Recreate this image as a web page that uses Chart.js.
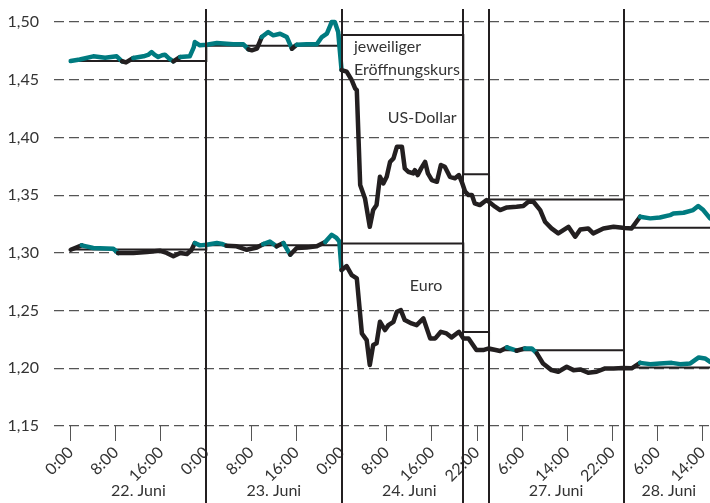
<!DOCTYPE html>
<html>
<head>
<meta charset="utf-8">
<script src="https://cdn.jsdelivr.net/npm/chart.js@4.4.0/dist/chart.umd.min.js"></script>
<style>
  html, body { margin: 0; padding: 0; background: #fff; }
</style>
</head>
<body>
<canvas id="myChart" width="710" height="503"></canvas>
<script>
// hours since 22. Juni 0:00 (weekend compressed)
const usdHours = [0, 1.6, 4.0, 6.1, 8.15, 9.1, 9.8, 11.1, 12.9, 13.7, 14.35, 14.9, 15.5, 16.2, 16.7, 17.4, 18.2, 19.4, 21.1, 21.8, 22.0, 22.9,
  24.1, 25.9, 28.8, 30.6, 31.5, 32.1, 33.0, 33.85, 35.0, 35.9, 37.1, 38.3, 39.2, 40.05, 41.8, 43.6, 44.5, 45.4, 46.25, 46.8, 47.4,
  48.0, 48.9, 49.8, 50.4, 50.7, 51.3, 52.15, 53.0, 53.6, 54.2, 54.8, 55.4, 56.0, 56.6, 57.2, 57.8, 58.7, 59.2, 59.8, 60.7, 61.0, 61.5,
  62.1, 62.8, 63.3, 64.0, 64.9, 65.6, 66.3, 67.2, 68.1, 68.8, 69.3, 69.9, 70.5, 71.1, 71.6, 72.5, 73.7,
  74.1, 75.2, 76.1, 77.3, 79.0, 80.2, 81.1, 82.0, 83.2, 84.05, 85.2, 86.4, 87.3, 88.2, 89.4, 90.3, 91.7, 92.6, 94.4, 96.2,
  98.2, 99.4, 100.9, 102.7, 104.4, 106.2, 106.8, 108.6, 110.3, 111.2, 112.1, 113.3];
const usdRate = [1.4662, 1.4675, 1.4703, 1.4690, 1.4703, 1.4660, 1.4650, 1.4688, 1.4703, 1.4715, 1.4740, 1.4715, 1.4697, 1.4712, 1.4717, 1.4685, 1.4660, 1.4697, 1.4703, 1.4780, 1.4827, 1.4798,
  1.4803, 1.4818, 1.4807, 1.4807, 1.4763, 1.4755, 1.4769, 1.4870, 1.4913, 1.4885, 1.4899, 1.4870, 1.4769, 1.4803, 1.4807, 1.4807, 1.4870, 1.4899, 1.5000, 1.5000, 1.4913,
  1.4584, 1.4570, 1.4497, 1.4425, 1.4410, 1.3588, 1.3472, 1.3226, 1.3371, 1.3414, 1.3659, 1.3602, 1.3659, 1.3789, 1.3818, 1.3919, 1.3919, 1.3732, 1.3703, 1.3689, 1.3717, 1.3674,
  1.3732, 1.3789, 1.3689, 1.3631, 1.3616, 1.3761, 1.3746, 1.3659, 1.3646, 1.3674, 1.3616, 1.3530, 1.3501, 1.3501, 1.3429, 1.3414, 1.3458,
  1.3443, 1.3400, 1.3371, 1.3394, 1.3400, 1.3406, 1.3443, 1.3443, 1.3371, 1.3270, 1.3212, 1.3169, 1.3198, 1.3226, 1.3140, 1.3203, 1.3212, 1.3169, 1.3212, 1.3226,
  1.3215, 1.3212, 1.3313, 1.3299, 1.3307, 1.3327, 1.3342, 1.3348, 1.3371, 1.3406, 1.3371, 1.3299];

const eurHours = [0, 1.95, 4.0, 7.55, 8.4, 11.1, 13.5, 15.8, 17.0, 18.2, 19.4, 20.6, 21.4, 22.0, 22.9,
  24.1, 25.9, 26.8, 27.6, 29.4, 31.2, 33.0, 34.1, 35.3, 36.5, 37.7, 38.9, 40.05, 41.8, 43.6, 45.1, 46.25, 47.1, 47.6,
  48.0, 48.9, 49.8, 50.7, 51.6, 52.45, 53.0, 53.6, 54.2, 54.8, 55.7, 56.3, 57.2, 57.8, 58.5, 59.2, 60.4, 61.3, 62.5, 63.7, 64.6, 65.6, 66.6, 67.5, 68.8,
  69.6, 70.5, 71.9, 73.1,
  74.1, 76.1, 77.3, 79.0, 80.5, 81.7, 82.6, 83.7, 85.2, 86.4, 87.9, 89.1, 90.3, 91.7, 93.2, 94.7, 96.2, 97.9,
  99.4, 100.9, 102.7, 104.4, 106.5, 108.0, 109.8, 111.3, 112.4, 113.3];
const eurRate = [1.3027, 1.3065, 1.3042, 1.3036, 1.2999, 1.2999, 1.3007, 1.3019, 1.2999, 1.2970, 1.2999, 1.2990, 1.3025, 1.3085, 1.3065,
  1.3071, 1.3085, 1.3078, 1.3062, 1.3057, 1.3027, 1.3047, 1.3075, 1.3098, 1.3057, 1.3085, 1.2984, 1.3042, 1.3047, 1.3057, 1.3094, 1.3157, 1.3129, 1.3100,
  1.2851, 1.2886, 1.2808, 1.2779, 1.2302, 1.2244, 1.2028, 1.2201, 1.2216, 1.2403, 1.2331, 1.2374, 1.2403, 1.2490, 1.2504, 1.2418, 1.2389, 1.2374, 1.2432, 1.2259, 1.2259, 1.2316, 1.2302, 1.2268, 1.2316,
  1.2259, 1.2259, 1.2158, 1.2158,
  1.2172, 1.2150, 1.2181, 1.2152, 1.2172, 1.2172, 1.2129, 1.2042, 1.1984, 1.1970, 1.2013, 1.1984, 1.1990, 1.1961, 1.1970, 1.1999, 1.1999, 1.2003,
  1.2000, 1.2047, 1.2036, 1.2042, 1.2047, 1.2036, 1.2042, 1.2094, 1.2085, 1.2056];

// trading periods and opening rates
const periodStart = [0, 24.03, 48.0, 69.57, 74.13, 98.05];
const usdOpen = [1.4662, 1.4795, 1.4887, 1.3682, 1.3463, 1.3217];
const eurOpen = [1.3029, 1.3067, 1.3081, 1.2315, 1.2156, 1.2006];

const tickHours = [0, 8, 16, 24, 32, 40, 48, 56, 64, 72, 80, 88, 96, 104, 112];
const tickLabels = ['0:00', '8:00', '16:00', '0:00', '8:00', '16:00', '0:00', '8:00', '16:00', '22:00', '6:00', '14:00', '22:00', '6:00', '14:00'];
const dayLabels = ['22. Juni', '23. Juni', '24. Juni', '27. Juni', '28. Juni'];
const dayLabelHours = [12, 36, 60, 86, 106];
const yTicks = [1.15, 1.20, 1.25, 1.30, 1.35, 1.40, 1.45, 1.50];

const TEAL = '#007b80';
const BLACK = '#231f20';
const FONT = 'Lato, "Open Sans", sans-serif';

function periodOf(h) {
  let i = 0;
  while (i + 1 < periodStart.length && h >= periodStart[i + 1]) i++;
  return i;
}

function points(xs, ys) {
  return xs.map((x, i) => ({ x: x, y: ys[i] }));
}

function openingSteps(opens) {
  const pts = periodStart.map((x, i) => ({ x: x, y: opens[i] }));
  pts.push({ x: 113.3, y: opens[opens.length - 1] });
  return pts;
}

function rateDataset(label, xs, ys, opens) {
  return {
    label: label,
    data: points(xs, ys),
    borderColor: BLACK,
    borderWidth: 4.5,
    borderJoinStyle: 'round',
    borderCapStyle: 'round',
    pointRadius: 0,
    tension: 0,
    segment: {
      borderColor: ctx => ctx.p0.parsed.y >= opens[periodOf(ctx.p0.parsed.x)] ? TEAL : BLACK
    }
  };
}

function openDataset(label, opens) {
  return {
    label: label,
    data: openingSteps(opens),
    borderColor: BLACK,
    borderWidth: 2,
    pointRadius: 0,
    stepped: 'before'
  };
}

const extras = {
  id: 'extras',
  afterDatasetsDraw(chart) {
    const ctx = chart.ctx;
    const xs = chart.scales.x;
    const ys = chart.scales.y;
    ctx.save();
    // period dividers
    ctx.strokeStyle = BLACK;
    ctx.lineWidth = 2;
    periodStart.slice(1).forEach(h => {
      const px = Math.round(xs.getPixelForValue(h));
      ctx.beginPath();
      ctx.moveTo(px, chart.chartArea.top);
      ctx.lineTo(px, chart.height);
      ctx.stroke();
    });
    // day labels
    ctx.fillStyle = '#333';
    ctx.font = '16px ' + FONT;
    ctx.textAlign = 'center';
    ctx.textBaseline = 'alphabetic';
    dayLabels.forEach((t, i) => {
      ctx.fillText(t, xs.getPixelForValue(dayLabelHours[i]), 496);
    });
    // annotations
    ctx.textAlign = 'left';
    ctx.fillText('jeweiliger', xs.getPixelForValue(50.2), ys.getPixelForValue(1.4743));
    ctx.fillText('Eröffnungskurs', xs.getPixelForValue(50.2), ys.getPixelForValue(1.4541));
    ctx.textAlign = 'right';
    ctx.fillText('US-Dollar', xs.getPixelForValue(68.4), ys.getPixelForValue(1.4123));
    ctx.textAlign = 'left';
    ctx.fillText('Euro', xs.getPixelForValue(60.1), ys.getPixelForValue(1.267));
    ctx.restore();
  }
};

const config = {
  type: 'line',
  data: {
    datasets: [
      rateDataset('US-Dollar', usdHours, usdRate, usdOpen),
      rateDataset('Euro', eurHours, eurRate, eurOpen),
      openDataset('Eröffnung US-Dollar', usdOpen),
      openDataset('Eröffnung Euro', eurOpen)
    ]
  },
  options: {
    responsive: false,
    animation: false,
    layout: { padding: { top: 9, right: 0, bottom: 0, left: 0 } },
    plugins: {
      legend: { display: false },
      tooltip: { enabled: false }
    },
    scales: {
      x: {
        type: 'linear',
        min: -2.96,
        max: 113.29,
        afterBuildTicks: scale => { scale.ticks = tickHours.map(v => ({ value: v })); },
        afterFit: scale => {
          scale.height = 77;
          scale.paddingLeft = 0;
          scale.paddingRight = 0;
        },
        border: { display: false },
        grid: { drawOnChartArea: false, drawTicks: true, tickLength: 15, color: '#555', lineWidth: 1 },
        ticks: {
          autoSkip: false,
          maxRotation: 45,
          minRotation: 45,
          padding: 2,
          color: '#333',
          font: { family: FONT, size: 16 },
          callback: (v, i) => tickLabels[i]
        }
      },
      y: {
        min: 1.15,
        max: 1.5113,
        afterBuildTicks: scale => { scale.ticks = yTicks.map(v => ({ value: v })); },
        afterFit: scale => {
          scale.width = 54;
          scale.paddingTop = 0;
          scale.paddingBottom = 0;
        },
        border: { display: false, dash: [10, 5] },
        grid: { drawTicks: false, color: '#555', lineWidth: 1.2 },
        ticks: {
          padding: 15,
          color: '#333',
          font: { family: FONT, size: 16 },
          callback: v => v.toFixed(2).replace('.', ',')
        }
      }
    }
  },
  plugins: [extras]
};

const myChart = new Chart(document.getElementById('myChart'), config);
</script>
</body>
</html>
